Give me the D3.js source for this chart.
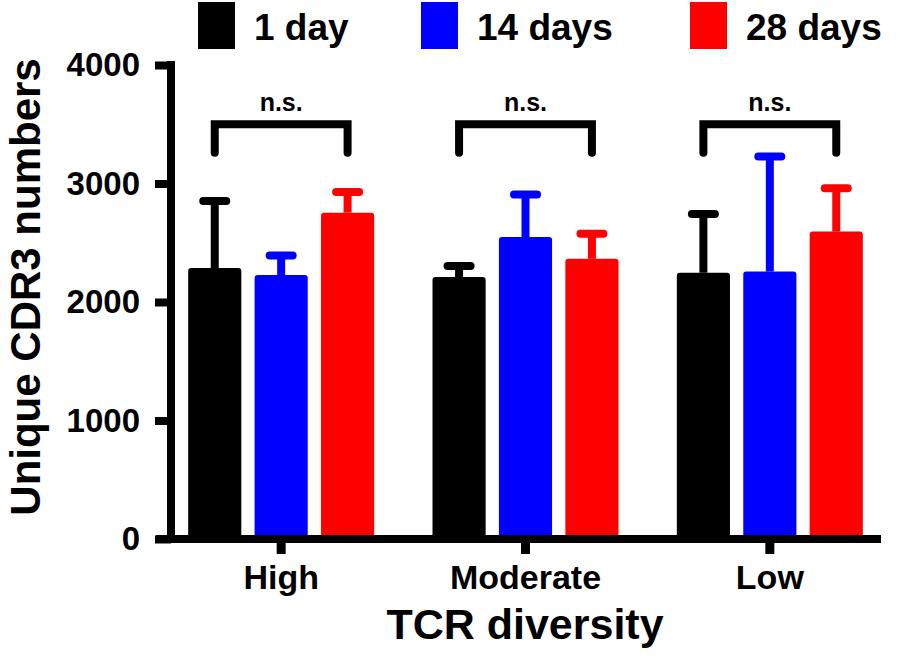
<!DOCTYPE html>
<html>
<head>
<meta charset="utf-8">
<script src="https://cdn.jsdelivr.net/npm/d3@7"></script>
<style>
  body { margin: 0; background: #fff; }
  svg text { font-family: "Liberation Sans", Arial, sans-serif; font-weight: bold; fill: #000; }
</style>
</head>
<body>
<div id="chart"></div>
<script>
// data
const groups = ["High", "Moderate", "Low"];
const series = ["1 day", "14 days", "28 days"];
const colors = ["#000000", "#0000ff", "#ff0000"];
// mean values per group, in series order
const means1 = [2286, 2210, 2247];
const means14 = [2227, 2548, 2258];
const means28 = [2754, 2365, 2594];
// top of the error bar (mean + SD)
const errTop1 = [2852, 2303, 2743];
const errTop14 = [2393, 2907, 3228];
const errTop28 = [2929, 2577, 2960];
const yTicks = [0, 1000, 2000, 3000, 4000];
const sigLabel = "n.s.";
const bracketTop = 3500;
const bracketBottom = 3260;

const svgWidth = 898;
const svgHeight = 658;

const svg = d3.select("#chart")
  .append("svg")
  .attr("width", svgWidth)
  .attr("height", svgHeight);

// scales
const x0 = d3.scaleBand().domain(groups).range([159, 892]);
const x1 = d3.scaleBand().domain(series).range([-93, 93]).paddingInner(0.2);
const y = d3.scaleLinear().domain([0, 4000]).range([539, 65]);

const means = [means1, means14, means28];
const errTops = [errTop1, errTop14, errTop28];

// flatten into rows for drawing
const rows = [];
groups.forEach((g, gi) => {
  series.forEach((s, si) => {
    rows.push({ group: g, series: s, color: colors[si], mean: means[si][gi], top: errTops[si][gi] });
  });
});
const cx = d => x0(d.group) + x0.bandwidth() / 2 + x1(d.series) + x1.bandwidth() / 2;

// error bars (drawn first so bars sit on top)
const errG = svg.append("g");
errG.selectAll("line.stem")
  .data(rows)
  .enter()
  .append("line")
  .attr("x1", cx).attr("x2", cx)
  .attr("y1", d => y(d.mean)).attr("y2", d => y(d.top))
  .attr("stroke", d => d.color)
  .attr("stroke-width", 8);
errG.selectAll("line.cap")
  .data(rows)
  .enter()
  .append("line")
  .attr("x1", d => cx(d) - 11.5).attr("x2", d => cx(d) + 11.5)
  .attr("y1", d => y(d.top)).attr("y2", d => y(d.top))
  .attr("stroke", d => d.color)
  .attr("stroke-width", 8)
  .attr("stroke-linecap", "round");

// bars
svg.append("g").selectAll("rect")
  .data(rows)
  .enter()
  .append("rect")
  .attr("x", d => x0(d.group) + x0.bandwidth() / 2 + x1(d.series))
  .attr("y", d => y(d.mean))
  .attr("width", x1.bandwidth())
  .attr("height", d => y(0) - y(d.mean))
  .attr("rx", 3)
  .attr("fill", d => d.color);

// significance brackets
const brG = svg.append("g");
groups.forEach(g => {
  const left = x0(g) + x0.bandwidth() / 2 + x1(series[0]) + x1.bandwidth() / 2;
  const right = x0(g) + x0.bandwidth() / 2 + x1(series[2]) + x1.bandwidth() / 2;
  brG.append("path")
    .attr("d", `M${left},${y(bracketBottom)}V${y(bracketTop)}H${right}V${y(bracketBottom)}`)
    .attr("fill", "none")
    .attr("stroke", "#000")
    .attr("stroke-width", 8)
    .attr("stroke-linejoin", "miter")
    .attr("stroke-linecap", "round");
  brG.append("text")
    .attr("x", (left + right) / 2)
    .attr("y", 111)
    .attr("text-anchor", "middle")
    .style("font-size", "25px")
    .text(sigLabel);
});

// y axis
const yAxis = svg.append("g")
  .attr("transform", "translate(171,0)")
  .call(d3.axisLeft(y).tickValues(yTicks).tickFormat(d3.format("d")).tickSize(16).tickPadding(15));
yAxis.select(".domain").remove();
yAxis.selectAll("line").attr("stroke", "#000").attr("stroke-width", 8);
yAxis.selectAll("text").style("font-size", "33px");
svg.append("line")
  .attr("x1", 171).attr("x2", 171)
  .attr("y1", y(4000) - 4).attr("y2", y(0) + 4)
  .attr("stroke", "#000").attr("stroke-width", 8);

// x axis
const xAxis = svg.append("g")
  .attr("transform", `translate(0,${y(0)})`)
  .call(d3.axisBottom(x0).tickSize(15).tickPadding(11));
xAxis.select(".domain").remove();
xAxis.selectAll("line").attr("stroke", "#000").attr("stroke-width", 9);
xAxis.selectAll("text").style("font-size", "34px");
svg.append("line")
  .attr("x1", 156).attr("x2", 881)
  .attr("y1", y(0)).attr("y2", y(0))
  .attr("stroke", "#000").attr("stroke-width", 8);

// axis titles
svg.append("text")
  .attr("x", 525)
  .attr("y", 639)
  .attr("text-anchor", "middle")
  .style("font-size", "43px")
  .text("TCR diversity");

svg.append("text")
  .attr("transform", "translate(40,287) rotate(-90)")
  .attr("text-anchor", "middle")
  .style("font-size", "42px")
  .text("Unique CDR3 numbers");

// legend
const legendX = [198, 421, 690];
const legend = svg.append("g");
series.forEach((s, i) => {
  legend.append("rect")
    .attr("x", legendX[i]).attr("y", 2)
    .attr("width", 37).attr("height", 47)
    .attr("fill", colors[i]);
  legend.append("text")
    .attr("x", legendX[i] + 56)
    .attr("y", 40)
    .style("font-size", "37px")
    .text(s);
});
</script>
</body>
</html>
